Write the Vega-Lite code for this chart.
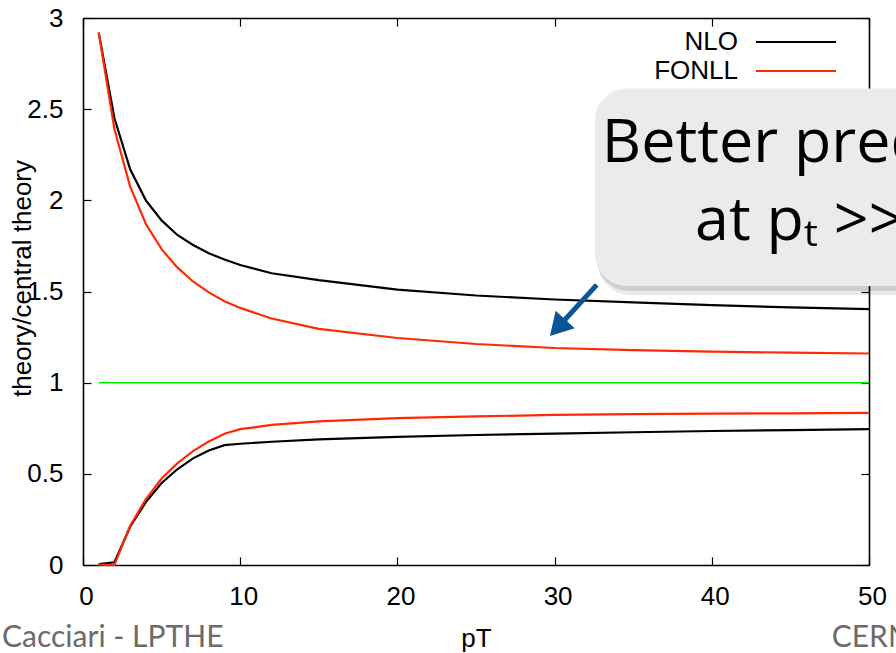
{
  "$schema": "https://vega.github.io/schema/vega-lite/v6.json",
  "width": 786,
  "height": 547,
  "autosize": {"type": "none"},
  "padding": {"left": 83, "top": 18, "right": 27, "bottom": 88},
  "background": "white",
  "config": {
    "view": {"stroke": null},
    "axis": {
      "domainColor": "#000000", "domainWidth": 1.6,
      "tickColor": "#000000", "tickWidth": 1.2, "tickSize": 8,
      "labelFont": "Liberation Sans", "labelFontSize": 26, "labelColor": "#000000",
      "titleFont": "Liberation Sans", "titleFontSize": 26, "titleColor": "#000000", "titleFontWeight": "normal",
      "grid": false
    }
  },
  "datasets": {
    "curves": [
      {"pt":1,"v":2.92,"theory":"NLO","band":"NLO up"},{"pt":2,"v":2.45,"theory":"NLO","band":"NLO up"},{"pt":3,"v":2.17,"theory":"NLO","band":"NLO up"},{"pt":4,"v":2.0,"theory":"NLO","band":"NLO up"},{"pt":5,"v":1.89,"theory":"NLO","band":"NLO up"},{"pt":6,"v":1.81,"theory":"NLO","band":"NLO up"},{"pt":7,"v":1.755,"theory":"NLO","band":"NLO up"},{"pt":8,"v":1.71,"theory":"NLO","band":"NLO up"},{"pt":9,"v":1.675,"theory":"NLO","band":"NLO up"},{"pt":10,"v":1.645,"theory":"NLO","band":"NLO up"},{"pt":12,"v":1.6,"theory":"NLO","band":"NLO up"},{"pt":15,"v":1.562,"theory":"NLO","band":"NLO up"},{"pt":20,"v":1.51,"theory":"NLO","band":"NLO up"},{"pt":25,"v":1.478,"theory":"NLO","band":"NLO up"},{"pt":30,"v":1.456,"theory":"NLO","band":"NLO up"},{"pt":35,"v":1.44,"theory":"NLO","band":"NLO up"},{"pt":40,"v":1.425,"theory":"NLO","band":"NLO up"},{"pt":45,"v":1.413,"theory":"NLO","band":"NLO up"},{"pt":50,"v":1.403,"theory":"NLO","band":"NLO up"},
      {"pt":1,"v":0.005,"theory":"NLO","band":"NLO low"},{"pt":2,"v":0.015,"theory":"NLO","band":"NLO low"},{"pt":3,"v":0.21,"theory":"NLO","band":"NLO low"},{"pt":4,"v":0.345,"theory":"NLO","band":"NLO low"},{"pt":5,"v":0.45,"theory":"NLO","band":"NLO low"},{"pt":6,"v":0.525,"theory":"NLO","band":"NLO low"},{"pt":7,"v":0.585,"theory":"NLO","band":"NLO low"},{"pt":8,"v":0.628,"theory":"NLO","band":"NLO low"},{"pt":9,"v":0.657,"theory":"NLO","band":"NLO low"},{"pt":10,"v":0.665,"theory":"NLO","band":"NLO low"},{"pt":12,"v":0.676,"theory":"NLO","band":"NLO low"},{"pt":15,"v":0.689,"theory":"NLO","band":"NLO low"},{"pt":20,"v":0.703,"theory":"NLO","band":"NLO low"},{"pt":25,"v":0.713,"theory":"NLO","band":"NLO low"},{"pt":30,"v":0.721,"theory":"NLO","band":"NLO low"},{"pt":35,"v":0.728,"theory":"NLO","band":"NLO low"},{"pt":40,"v":0.735,"theory":"NLO","band":"NLO low"},{"pt":45,"v":0.74,"theory":"NLO","band":"NLO low"},{"pt":50,"v":0.745,"theory":"NLO","band":"NLO low"},
      {"pt":1,"v":2.92,"theory":"FONLL","band":"FONLL up"},{"pt":2,"v":2.39,"theory":"FONLL","band":"FONLL up"},{"pt":3,"v":2.075,"theory":"FONLL","band":"FONLL up"},{"pt":4,"v":1.87,"theory":"FONLL","band":"FONLL up"},{"pt":5,"v":1.732,"theory":"FONLL","band":"FONLL up"},{"pt":6,"v":1.632,"theory":"FONLL","band":"FONLL up"},{"pt":7,"v":1.555,"theory":"FONLL","band":"FONLL up"},{"pt":8,"v":1.495,"theory":"FONLL","band":"FONLL up"},{"pt":9,"v":1.447,"theory":"FONLL","band":"FONLL up"},{"pt":10,"v":1.41,"theory":"FONLL","band":"FONLL up"},{"pt":12,"v":1.352,"theory":"FONLL","band":"FONLL up"},{"pt":15,"v":1.295,"theory":"FONLL","band":"FONLL up"},{"pt":20,"v":1.245,"theory":"FONLL","band":"FONLL up"},{"pt":25,"v":1.212,"theory":"FONLL","band":"FONLL up"},{"pt":30,"v":1.19,"theory":"FONLL","band":"FONLL up"},{"pt":35,"v":1.178,"theory":"FONLL","band":"FONLL up"},{"pt":40,"v":1.17,"theory":"FONLL","band":"FONLL up"},{"pt":45,"v":1.165,"theory":"FONLL","band":"FONLL up"},{"pt":50,"v":1.16,"theory":"FONLL","band":"FONLL up"},
      {"pt":1,"v":0.002,"theory":"FONLL","band":"FONLL low"},{"pt":2,"v":0.0,"theory":"FONLL","band":"FONLL low"},{"pt":3,"v":0.215,"theory":"FONLL","band":"FONLL low"},{"pt":4,"v":0.362,"theory":"FONLL","band":"FONLL low"},{"pt":5,"v":0.474,"theory":"FONLL","band":"FONLL low"},{"pt":6,"v":0.557,"theory":"FONLL","band":"FONLL low"},{"pt":7,"v":0.625,"theory":"FONLL","band":"FONLL low"},{"pt":8,"v":0.677,"theory":"FONLL","band":"FONLL low"},{"pt":9,"v":0.72,"theory":"FONLL","band":"FONLL low"},{"pt":10,"v":0.745,"theory":"FONLL","band":"FONLL low"},{"pt":12,"v":0.768,"theory":"FONLL","band":"FONLL low"},{"pt":15,"v":0.788,"theory":"FONLL","band":"FONLL low"},{"pt":20,"v":0.805,"theory":"FONLL","band":"FONLL low"},{"pt":25,"v":0.815,"theory":"FONLL","band":"FONLL low"},{"pt":30,"v":0.823,"theory":"FONLL","band":"FONLL low"},{"pt":35,"v":0.827,"theory":"FONLL","band":"FONLL low"},{"pt":40,"v":0.83,"theory":"FONLL","band":"FONLL low"},{"pt":45,"v":0.832,"theory":"FONLL","band":"FONLL low"},{"pt":50,"v":0.834,"theory":"FONLL","band":"FONLL low"}
    ],
    "central": [{"pt":1,"v":1},{"pt":50,"v":1}],
    "box": [{"x1":32.57,"x2":62,"y1":2.614,"y2":1.53}],
    "callout": [
      {"x":33.0,"y":2.21,"text":"Better predictions"},
      {"x":38.93,"y":1.782,"text":"at pₜ >> m"}
    ],
    "arrow": [{"x1":32.68,"y1":1.536,"x2":30.19,"y2":1.301}],
    "footer": [
      {"x":-5.15,"y":-0.448,"text":"Cacciari - LPTHE"},
      {"x":47.63,"y":-0.448,"text":"CERN"}
    ]
  },
  "layer": [
    {
      "data": {"name": "curves"},
      "mark": {"type": "line", "strokeWidth": 2.2},
      "encoding": {
        "x": {"field": "pt", "type": "quantitative", "scale": {"domain": [0, 50], "nice": false, "zero": false},
              "axis": {"orient": "bottom", "values": [0,10,20,30,40,50], "ticks": false, "labelFlush": false, "labelOffset": 3, "labelPadding": 39, "labelBaseline": "alphabetic",
                       "title": "pT", "titleX": 393, "titleY": 81, "titleBaseline": "alphabetic", "titleAlign": "center"}},
        "y": {"field": "v", "type": "quantitative", "scale": {"domain": [0, 3], "nice": false, "zero": false},
              "axis": {"orient": "left", "values": [0,0.5,1,1.5,2,2.5,3], "format": "~g", "ticks": false, "labelFlush": false, "labelPadding": 20,
                       "title": "theory/central theory", "titleX": -61, "titleY": 260, "titleAngle": 270, "titleBaseline": "middle", "titleAlign": "center"}},
        "color": {"field": "theory", "type": "nominal",
                  "scale": {"domain": ["NLO", "FONLL"], "range": ["#000000", "#ff2a00"]},
                  "legend": {"orient": "none", "legendX": 700, "legendY": 11, "padding": 0, "title": null,
                             "symbolType": "M-4,0H4", "symbolSize": 400, "symbolStrokeWidth": 2, "rowPadding": 3,
                             "labelAlign": "right", "labelOffset": -71, "labelFont": "Liberation Sans", "labelFontSize": 26,
                             "labelColor": "#000000", "labelBaseline": "middle"}},
        "detail": {"field": "band"}
      }
    },
    {
      "data": {"name": "central"},
      "mark": {"type": "line", "strokeWidth": 1.5, "color": "#00ee00"},
      "encoding": {
        "x": {"field": "pt", "type": "quantitative", "scale": {"domain": [0, 50], "nice": false, "zero": false},
              "axis": {"orient": "bottom", "offset": -547, "values": [0,10,20,30,40,50], "labels": false, "title": null}},
        "y": {"field": "v", "type": "quantitative", "scale": {"domain": [0, 3], "nice": false, "zero": false},
              "axis": {"orient": "left", "offset": -786, "values": [0,0.5,1,1.5,2,2.5,3], "labels": false, "title": null}}
      }
    },
    {
      "data": {"name": "box"},
      "mark": {"type": "rect", "fill": "#000000", "opacity": 0.08, "cornerRadius": 32, "xOffset": 3, "x2Offset": 3, "yOffset": 9, "y2Offset": 9},
      "encoding": {
        "x": {"field": "x1", "type": "quantitative", "scale": {"domain": [0, 50], "nice": false, "zero": false},
              "axis": {"orient": "top", "offset": -547, "values": [0,10,20,30,40,50], "labels": false, "domain": false, "title": null}},
        "x2": {"field": "x2"},
        "y": {"field": "y1", "type": "quantitative", "scale": {"domain": [0, 3], "nice": false, "zero": false},
              "axis": {"orient": "right", "offset": -786, "values": [0,0.5,1,1.5,2,2.5,3], "labels": false, "domain": false, "title": null}},
        "y2": {"field": "y2"}
      }
    },
    {
      "data": {"name": "box"},
      "mark": {"type": "rect", "fill": "#000000", "opacity": 0.12, "cornerRadius": 32, "xOffset": 2, "x2Offset": 2, "yOffset": 5, "y2Offset": 5},
      "encoding": {
        "x": {"field": "x1", "type": "quantitative", "axis": null},
        "x2": {"field": "x2"},
        "y": {"field": "y1", "type": "quantitative", "axis": null},
        "y2": {"field": "y2"}
      }
    },
    {
      "data": {"name": "box"},
      "mark": {"type": "rect", "fill": "#ebebeb", "cornerRadius": 32},
      "encoding": {
        "x": {"field": "x1", "type": "quantitative", "axis": null},
        "x2": {"field": "x2"},
        "y": {"field": "y1", "type": "quantitative", "axis": null},
        "y2": {"field": "y2"}
      }
    },
    {
      "data": {"name": "callout"},
      "mark": {"type": "text", "font": "Open Sans", "fontSize": 61, "color": "#000000", "align": "left", "baseline": "alphabetic"},
      "encoding": {
        "x": {"field": "x", "type": "quantitative", "axis": null},
        "y": {"field": "y", "type": "quantitative", "axis": null},
        "text": {"field": "text"}
      }
    },
    {
      "data": {"name": "arrow"},
      "mark": {"type": "rule", "color": "#0b5597", "strokeWidth": 5},
      "encoding": {
        "x": {"field": "x1", "type": "quantitative", "axis": null},
        "x2": {"field": "x2"},
        "y": {"field": "y1", "type": "quantitative", "axis": null},
        "y2": {"field": "y2"}
      }
    },
    {
      "data": {"name": "arrow"},
      "mark": {"type": "point", "shape": "triangle-up", "filled": true, "color": "#0b5597", "opacity": 1, "size": 676, "angle": 222.5},
      "encoding": {
        "x": {"field": "x2", "type": "quantitative", "axis": null},
        "y": {"field": "y2", "type": "quantitative", "axis": null}
      }
    },
    {
      "data": {"name": "footer"},
      "mark": {"type": "text", "font": "Lato", "fontSize": 30, "color": "#6b6b6b", "align": "left", "baseline": "alphabetic"},
      "encoding": {
        "x": {"field": "x", "type": "quantitative", "axis": null},
        "y": {"field": "y", "type": "quantitative", "axis": null},
        "text": {"field": "text"}
      }
    }
  ],
  "resolve": {"axis": {"x": "independent", "y": "independent"}}
}
